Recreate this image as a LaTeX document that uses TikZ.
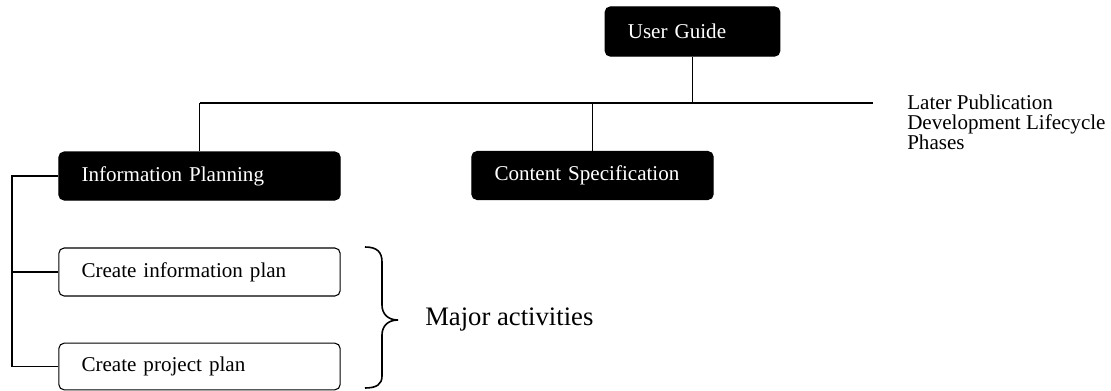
\documentclass[tikz,border=0pt]{standalone}
\usepackage{fontspec}
\setmainfont{Liberation Serif}
\usetikzlibrary{positioning}

\tikzset{
  darkbox/.style={draw=black, fill=black, text=white, rounded corners=4pt, line width=0.8pt,
    align=left, inner xsep=17pt, font=\fontsize{15.8}{15}\selectfont},
  lightbox/.style={draw=black, fill=white, text=black, rounded corners=4pt, line width=0.8pt,
    align=left, inner xsep=17pt, font=\fontsize{15.8}{15}\selectfont},
  link/.style={line width=1.4pt}
}

\begin{document}
\begin{tikzpicture}[x=0.75pt, y=-0.75pt]
  \useasboundingbox (0,0) rectangle (1111,390);

  % Boxes
  \node [darkbox, text width=97pt, minimum height=37pt] (guide) at (692.5,31.5) {User Guide};
  \node [darkbox, text width=177pt, minimum height=36pt] (plan) at (199.5,176) {Information Planning};
  \node [darkbox, text width=147pt, minimum height=36pt] (spec) at (592.5,175.5) {Content Specification};
  \node [lightbox, text width=177pt, minimum height=36pt] (infoplan) at (199.5,272) {Create information plan};
  \node [lightbox, text width=177pt, minimum height=35pt] (projplan) at (199.5,366.5) {Create project plan};

  % Bus
  \coordinate (busleft) at (199.5,103);
  \coordinate (busright) at (873,103);
  \coordinate (rail) at (12,176);
  \draw [link] (busleft) -- (busright);
  \draw [link] (guide.south) -- (guide.south |- busleft);
  \draw [link] (plan.north) -- (plan.north |- busleft);
  \draw [link] (spec.north) -- (spec.north |- busleft);

  % Left rail
  \draw [link] (plan.west) -- (rail) |- (projplan.west);
  \draw [link] (infoplan.west) -- (infoplan.west -| rail);

  % Side text
  \node [anchor=north west, inner sep=0pt, align=left, font=\fontsize{15.8}{15}\selectfont]
    (phases) at (907,95) {Later Publication\\Development Lifecycle\\Phases};

  % Brace
  \draw [line width=1.2pt] (365,247) .. controls (377,247) and (382,252) .. (382,262) -- (382,305)
    .. controls (382,314) and (388,320) .. (398,320)
    .. controls (388,320) and (382,326) .. (382,335) -- (382,376)
    .. controls (382,384) and (377,388) .. (365,388);
  \node [anchor=west, inner sep=0pt, font=\fontsize{20}{24}\selectfont] (major) at (425,320) {Major activities};
\end{tikzpicture}
\end{document}
